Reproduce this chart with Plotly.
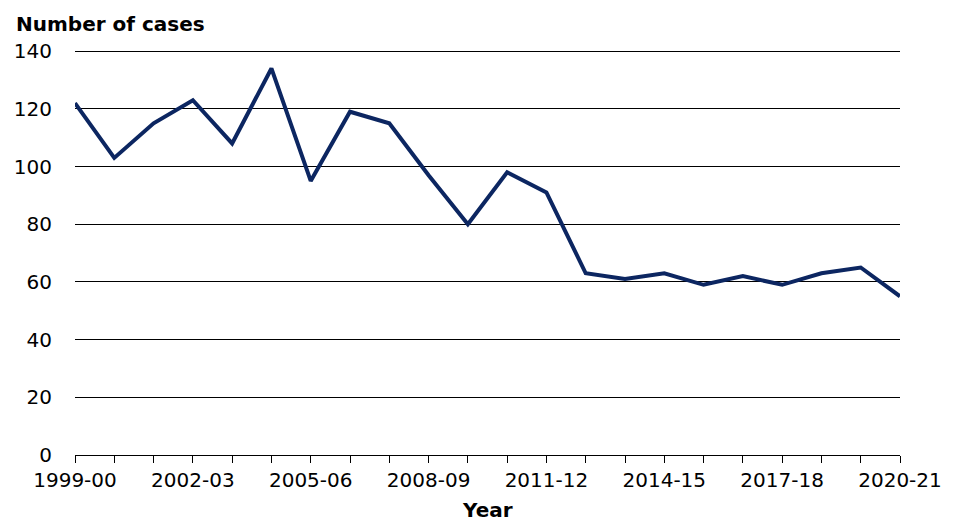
import plotly.graph_objects as go

years = ["1999-00", "2000-01", "2001-02", "2002-03", "2003-04", "2004-05", "2005-06",
         "2006-07", "2007-08", "2008-09", "2009-10", "2010-11", "2011-12", "2012-13",
         "2013-14", "2014-15", "2015-16", "2016-17", "2017-18", "2018-19", "2019-20", "2020-21"]
cases = [122, 103, 115, 123, 108, 134, 95, 119, 115, 97, 80, 98, 91, 63,
         61, 63, 59, 62, 59, 63, 65, 55]
y_ticks = [0, 20, 40, 60, 80, 100, 120, 140]
tick_labels = [y if i % 3 == 0 else "" for i, y in enumerate(years)]

FONT = "DejaVu Sans, Arial, sans-serif"

fig = go.Figure()
fig.add_trace(go.Scatter(x=list(range(len(years))), y=cases, mode="lines",
                         line=dict(color="#0c2661", width=4)))

fig.update_layout(
    width=945, height=522,
    margin=dict(l=67, r=53, t=42, b=75),
    paper_bgcolor="white", plot_bgcolor="white",
    showlegend=False,
    font=dict(family=FONT, size=20, color="black"),
    xaxis=dict(
        range=[0, len(years) - 1], automargin=False,
        tickmode="array", tickvals=list(range(len(years))), ticktext=tick_labels,
        ticks="outside", ticklen=7, tickcolor="black", tickwidth=1.3,
        showgrid=False, zeroline=False, showline=False,
        tickfont=dict(size=20),
    ),
    yaxis=dict(
        range=[0, 140.4], automargin=False, tickvals=y_ticks,
        showgrid=True, gridcolor="black", gridwidth=1.3,
        zeroline=True, zerolinecolor="black", zerolinewidth=1.3,
        showline=False, ticks="", ticklabelstandoff=22,
        tickfont=dict(size=20),
    ),
    annotations=[
        dict(text="<b>Number of cases</b>", xref="paper", yref="paper",
             x=-61 / 825, y=1 + 26 / 405, xanchor="left", yanchor="middle",
             showarrow=False, font=dict(size=20)),
        dict(text="<b>Year</b>", xref="paper", yref="paper",
             x=0.5, y=-55 / 405, xanchor="center", yanchor="middle",
             showarrow=False, font=dict(size=20)),
    ],
)
fig.write_html("out.html")
